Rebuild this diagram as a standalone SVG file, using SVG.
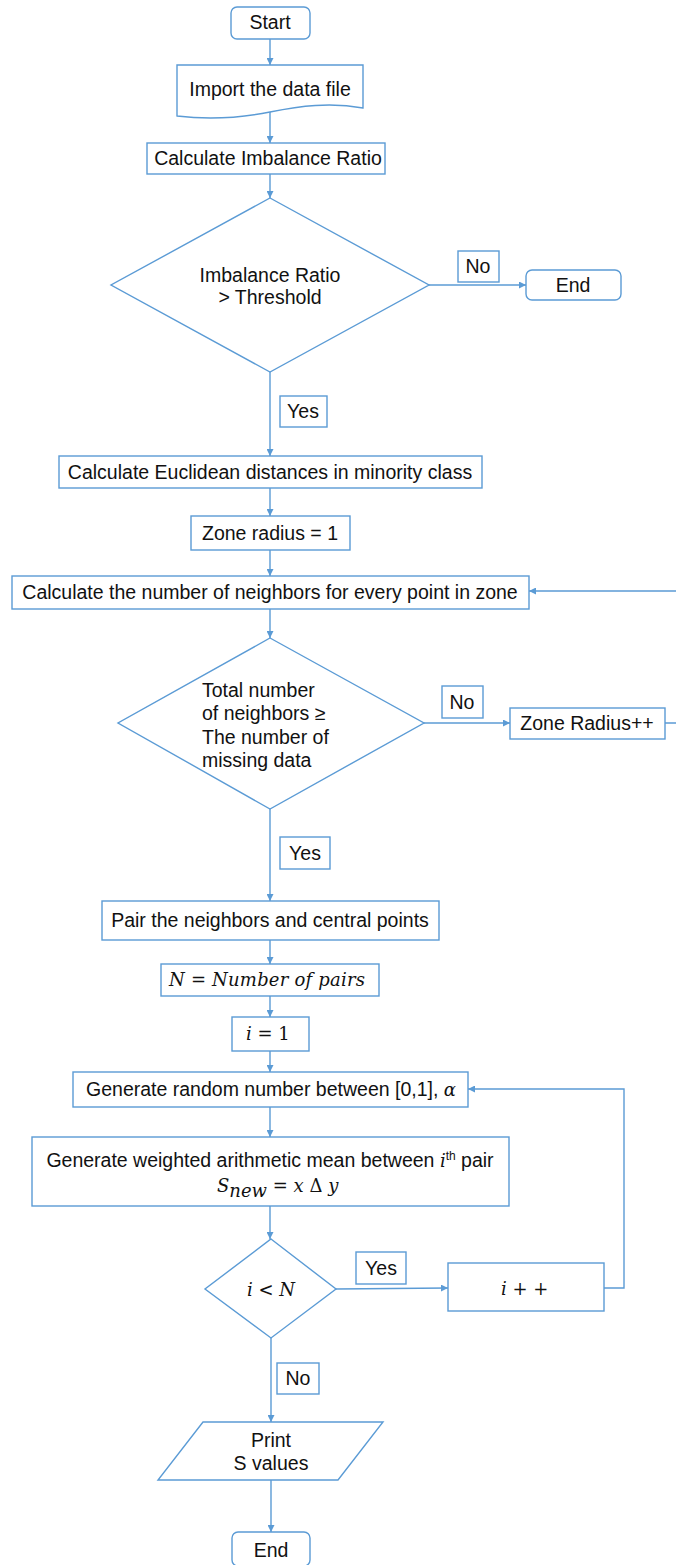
<svg xmlns="http://www.w3.org/2000/svg" width="676" height="1565" viewBox="0 0 676 1565">
<style>
.s{fill:#fff;stroke:#5B9BD5;stroke-width:1.4}
.c{fill:none;stroke:#5B9BD5;stroke-width:1.4}
text{font-family:"Liberation Sans",Arial,sans-serif;font-size:19.5px;fill:#111}
.m{font-family:"DejaVu Serif","Liberation Serif",serif;font-style:italic;font-size:18px}
.u{font-family:"DejaVu Serif","Liberation Serif",serif;font-style:normal;font-size:18px}
.mid{text-anchor:middle}
</style>
<defs>
<marker id="a" viewBox="0 0 10 10" refX="10" refY="5" markerWidth="7" markerHeight="7" markerUnits="userSpaceOnUse" orient="auto">
<path d="M0,0 L10,5 L0,10 Z" fill="#5B9BD5"/>
</marker>
</defs>
<g id="connectors">
<line class="c" x1="270" y1="39" x2="270" y2="65" marker-end="url(#a)"/>
<line class="c" x1="270" y1="112" x2="270" y2="143" marker-end="url(#a)"/>
<line class="c" x1="270" y1="174" x2="270" y2="198" marker-end="url(#a)"/>
<line class="c" x1="429" y1="285" x2="526" y2="285" marker-end="url(#a)"/>
<line class="c" x1="270" y1="372" x2="270" y2="456" marker-end="url(#a)"/>
<line class="c" x1="270" y1="488" x2="270" y2="516" marker-end="url(#a)"/>
<line class="c" x1="270" y1="550" x2="270" y2="576" marker-end="url(#a)"/>
<line class="c" x1="270" y1="609" x2="270" y2="638" marker-end="url(#a)"/>
<line class="c" x1="424" y1="723" x2="510" y2="723" marker-end="url(#a)"/>
<polyline class="c" points="665,723 680,723 680,591 529,591" marker-end="url(#a)"/>
<line class="c" x1="270" y1="809" x2="270" y2="901" marker-end="url(#a)"/>
<line class="c" x1="270" y1="940" x2="270" y2="964" marker-end="url(#a)"/>
<line class="c" x1="270" y1="996" x2="270" y2="1017" marker-end="url(#a)"/>
<line class="c" x1="270" y1="1051" x2="270" y2="1072" marker-end="url(#a)"/>
<line class="c" x1="270" y1="1107" x2="270" y2="1137" marker-end="url(#a)"/>
<line class="c" x1="270" y1="1206" x2="270" y2="1239" marker-end="url(#a)"/>
<line class="c" x1="336" y1="1289" x2="448" y2="1288" marker-end="url(#a)"/>
<polyline class="c" points="604,1288 624,1288 624,1089 468,1089" marker-end="url(#a)"/>
<line class="c" x1="271" y1="1338" x2="271" y2="1422" marker-end="url(#a)"/>
<line class="c" x1="271" y1="1480" x2="271" y2="1532" marker-end="url(#a)"/>
</g>
<g id="start"><rect class="s" x="231" y="7" width="79" height="32" rx="6"/><text class="mid" x="270" y="29">Start</text></g>
<g id="import"><path class="s" d="M177,65 H363 V108 C330,102 300,106 270,112 C240,118 210,120 177,116 Z"/><text class="mid" x="270" y="96">Import the data file</text></g>
<g id="calc-ir"><rect class="s" x="147" y="143" width="238" height="31"/><text class="mid" x="268" y="165">Calculate Imbalance Ratio</text></g>
<g id="dec-ir"><polygon class="s" points="270,198 429,285 270,372 111,285"/><text class="mid" x="270" y="282">Imbalance Ratio</text><text class="mid" x="270" y="304">&gt; Threshold</text></g>
<g id="lbl-no1"><rect class="s" x="458" y="251" width="41" height="31"/><text class="mid" x="478" y="273">No</text></g>
<g id="end1"><rect class="s" x="526" y="270" width="95" height="30" rx="6"/><text class="mid" x="573" y="292">End</text></g>
<g id="lbl-yes1"><rect class="s" x="280" y="396" width="47" height="31"/><text class="mid" x="303" y="418">Yes</text></g>
<g id="euclid"><rect class="s" x="59" y="456" width="423" height="32"/><text class="mid" x="270" y="479">Calculate Euclidean distances in minority class</text></g>
<g id="zone1"><rect class="s" x="191" y="516" width="159" height="34"/><text class="mid" x="270" y="540">Zone radius = 1</text></g>
<g id="neighbors"><rect class="s" x="12" y="576" width="517" height="33"/><text class="mid" x="270" y="599">Calculate the number of neighbors for every point in zone</text></g>
<g id="dec-nb"><polygon class="s" points="270,638 424,723 270,809 118,723"/>
<text x="202" y="697">Total number</text><text x="202" y="720">of neighbors ≥</text><text x="202" y="744">The number of</text><text x="202" y="767">missing data</text></g>
<g id="lbl-no2"><rect class="s" x="442" y="686" width="41" height="32"/><text class="mid" x="462" y="709">No</text></g>
<g id="zoneinc"><rect class="s" x="510" y="708" width="155" height="31"/><text class="mid" x="587" y="730">Zone Radius++</text></g>
<g id="lbl-yes2"><rect class="s" x="280" y="837" width="50" height="32"/><text class="mid" x="305" y="860">Yes</text></g>
<g id="pair"><rect class="s" x="102" y="901" width="337" height="39"/><text class="mid" x="270" y="927">Pair the neighbors and central points</text></g>
<g id="npairs"><rect class="s" x="161" y="964" width="218" height="32"/><text class="m" x="169" y="986" textLength="196" lengthAdjust="spacing">N <tspan class="u">=</tspan> Number of pairs</text></g>
<g id="i1"><rect class="s" x="232" y="1017" width="77" height="34"/><text x="246" y="1040"><tspan class="m">i</tspan><tspan class="u"> = 1</tspan></text></g>
<g id="random"><rect class="s" x="73" y="1072" width="395" height="35"/><text class="mid" x="271" y="1096">Generate random number between [0,1], <tspan class="m">α</tspan></text></g>
<g id="weighted"><rect class="s" x="32" y="1137" width="477" height="69"/>
<text class="mid" x="270" y="1167">Generate weighted arithmetic mean between <tspan class="m">i</tspan><tspan font-size="12" dy="-7">th</tspan><tspan dy="7"> pair</tspan></text>
<text x="217" y="1192"><tspan class="m">S</tspan><tspan class="m" font-size="13" dy="5">new</tspan><tspan class="u" dy="-5"> = </tspan><tspan class="m">x</tspan><tspan class="u"> Δ </tspan><tspan class="m">y</tspan></text></g>
<g id="dec-i"><polygon class="s" points="271,1239 336,1289 271,1338 205,1289"/><text x="247" y="1296"><tspan class="m">i</tspan><tspan class="u"> &lt; </tspan><tspan class="m">N</tspan></text></g>
<g id="lbl-yes3"><rect class="s" x="356" y="1252" width="50" height="32"/><text class="mid" x="381" y="1275">Yes</text></g>
<g id="iinc"><rect class="s" x="448" y="1263" width="156" height="48"/><text x="501" y="1295"><tspan class="m">i</tspan><tspan class="u"> + +</tspan></text></g>
<g id="lbl-no3"><rect class="s" x="277" y="1363" width="42" height="31"/><text class="mid" x="298" y="1385">No</text></g>
<g id="print"><polygon class="s" points="203,1422 383,1422 338,1480 158,1480"/><text class="mid" x="271" y="1447">Print</text><text class="mid" x="271" y="1470">S values</text></g>
<g id="end2"><rect class="s" x="232" y="1532" width="78" height="34" rx="6"/><text class="mid" x="271" y="1557">End</text></g>
</svg>
